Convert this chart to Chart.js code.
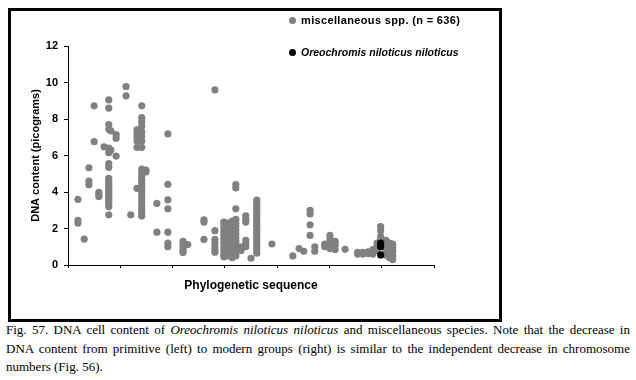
<!DOCTYPE html>
<html><head><meta charset="utf-8">
<script src="https://cdn.jsdelivr.net/npm/chart.js@4"></script>
<style>
html,body{margin:0;padding:0;background:#fff;width:636px;height:380px;overflow:hidden;}
#box{position:absolute;left:8px;top:8px;width:488px;height:308px;border:3px solid #000;}
#c{position:absolute;left:0;top:0;}
.leg{position:absolute;font-family:"Liberation Sans",Arial,sans-serif;font-weight:bold;font-size:11px;color:#000;white-space:nowrap;line-height:13px;}
.dot{position:absolute;width:7px;height:7px;border-radius:50%;}
#cap{position:absolute;left:6px;top:321px;width:624px;font-family:"Liberation Serif","Times New Roman",serif;font-size:13px;line-height:18.5px;color:#000;}
#cap div{text-align:justify;text-align-last:justify;}
#cap div.last{text-align-last:left;}
</style></head>
<body>
<div id="box"></div>
<canvas id="c" width="636" height="320"></canvas>
<div class="dot" style="left:289px;top:17px;background:#808080"></div>
<div class="leg" id="l0" style="left:301px;top:14px;letter-spacing:0.35px"></div>
<div class="dot" style="left:289px;top:49px;background:#000"></div>
<div class="leg" id="l1" style="left:301px;top:46px;font-style:italic;font-size:10.5px"></div>
<div id="cap">
<div>Fig. 57. DNA cell content of <i>Oreochromis niloticus niloticus</i> and miscellaneous species. Note that the decrease in</div>
<div>DNA content from primitive (left) to modern groups (right) is similar to the independent decrease in chromosome</div>
<div class="last">numbers (Fig. 56).</div>
</div>
<script>
const legendLabels = ['miscellaneous spp. (n = 636)', 'Oreochromis niloticus niloticus'];
const yTickValues = [0, 2, 4, 6, 8, 10, 12];
const xTickPositions = [0, 1, 2, 3, 4, 5, 6, 7];

// Phylogenetic position of each column of species
const miscPositions = [0.19, 0.31, 0.40, 0.50, 0.59, 0.69, 0.78, 0.82, 0.92, 1.11, 1.20, 1.32, 1.41, 1.49,
  1.70, 1.91, 2.20, 2.29, 2.60, 2.81, 2.98, 3.06, 3.14, 3.21, 3.31, 3.40, 3.50, 3.61, 3.90,
  4.30, 4.42, 4.51, 4.63, 4.72, 4.91, 5.01, 5.11, 5.30, 5.54, 5.64, 5.74, 5.83, 5.91, 5.98, 6.08, 6.15, 6.21];
// DNA content (pg) of the species in each column
const miscValues = [
  [3.6, 2.45, 2.3],
  [1.42],
  [5.33, 4.6, 4.4],
  [8.72, 6.76],
  [3.98, 3.85, 3.75],
  [6.48],
  [9.05, 8.6, 7.7, 7.45, 6.4, 6.15, 5.55, 5.35, 4.75, 4.6, 4.45, 4.3, 4.15, 4.0, 3.85, 3.7, 3.55, 3.4, 3.2, 2.75],
  [7.35, 6.3],
  [7.15, 6.95, 5.97],
  [9.78, 9.27],
  [2.75],
  [7.4, 7.2, 7.0, 6.8, 6.45, 4.2],
  [8.72, 8.08, 7.85, 7.6, 7.3, 7.05, 6.8, 6.45, 5.25, 5.05, 4.85, 4.65, 4.45, 4.25, 4.05, 3.85, 3.65, 3.45, 3.25, 3.05, 2.85, 2.68],
  [5.2, 5.1],
  [3.38, 1.8],
  [7.18, 4.42, 3.57, 3.08, 1.8, 1.2, 1.0],
  [1.3, 1.1, 0.95, 0.8, 0.68],
  [1.12],
  [2.48, 2.35, 1.4],
  [9.6, 1.88, 1.4, 1.2, 1.0, 0.85, 0.7],
  [2.35, 2.2, 2.0, 1.8, 1.6, 1.4, 1.2, 1.0, 0.8, 0.6, 0.45],
  [2.3, 2.1, 1.9, 1.7, 1.5, 1.3, 1.1, 0.9, 0.7, 0.5],
  [2.4, 2.2, 2.0, 1.8, 1.6, 1.4, 1.2, 1.0, 0.8, 0.6, 0.4],
  [4.4, 4.22, 3.08, 2.5, 2.3, 2.1, 1.9, 1.7, 1.5, 1.3, 1.1, 0.9, 0.7, 0.5],
  [1.0, 0.8],
  [2.7, 2.5, 2.35, 1.35, 1.15, 1.0],
  [0.37],
  [3.55, 3.4, 3.25, 3.1, 2.95, 2.8, 2.65, 2.5, 2.35, 2.2, 2.05, 1.9, 1.75, 1.6, 1.45, 1.3, 1.15, 1.0, 0.85, 0.65],
  [1.15],
  [0.5],
  [0.9],
  [0.75],
  [3.0, 2.8, 2.2, 1.62],
  [1.0, 0.75],
  [1.15, 1.0],
  [1.62, 1.45, 1.25, 1.05, 0.9],
  [1.3, 1.1, 0.85],
  [0.86],
  [0.7, 0.6],
  [0.7, 0.6],
  [0.72, 0.62],
  [0.85, 0.7, 0.6],
  [1.2, 1.0, 0.8],
  [2.1, 1.88, 1.55, 1.35],
  [1.35, 1.15, 0.95, 0.75, 0.55],
  [1.2, 1.0, 0.8, 0.6, 0.4],
  [1.15, 0.95, 0.75, 0.5, 0.3]
];
const nilePositions = [5.98, 5.98, 5.98];
const nileValues = [1.2, 1.0, 0.55];

document.getElementById('l0').textContent = legendLabels[0];
document.getElementById('l1').textContent = legendLabels[1];

const miscPts = miscPositions.flatMap((x, i) => miscValues[i].map(y => ({x, y})));
const nilePts = nilePositions.map((x, i) => ({x, y: nileValues[i]}));
const FONT = '"Liberation Sans", Arial, sans-serif';

new Chart(document.getElementById('c'), {
  type: 'scatter',
  data: {datasets: [
    {label: legendLabels[1], data: nilePts, backgroundColor: '#000', borderColor: '#000', borderWidth: 0, pointRadius: 3.6},
    {label: legendLabels[0], data: miscPts, backgroundColor: '#808080', borderColor: '#808080', borderWidth: 0, pointRadius: 3.6}
  ]},
  options: {
    responsive: false, animation: false, events: [],
    layout: {padding: {left: 10, top: 46, right: 202, bottom: 23}},
    plugins: {legend: {display: false}, tooltip: {enabled: false}},
    scales: {
      x: {
        type: 'linear', min: 0, max: 7,
        afterBuildTicks: s => { s.ticks = xTickPositions.map(v => ({value: v})); },
        ticks: {callback: () => '', font: {family: FONT, size: 11}},
        grid: {drawOnChartArea: false, drawTicks: true, tickLength: 3, color: '#000'},
        border: {color: '#000', width: 1},
        title: {display: true, text: 'Phylogenetic sequence', color: '#000', font: {family: FONT, size: 12, weight: 'bold'}, padding: {top: 0, bottom: 4}},
        afterFit: s => { s.height = 32; s.paddingLeft = 0; s.paddingRight = 0; }
      },
      y: {
        min: 0, max: 12,
        afterBuildTicks: s => { s.ticks = yTickValues.map(v => ({value: v})); },
        ticks: {color: '#000', font: {family: FONT, size: 11, weight: 'bold'}, padding: 6},
        grid: {drawOnChartArea: false, drawTicks: true, tickLength: 4, color: '#000'},
        border: {color: '#000', width: 1},
        title: {display: true, text: 'DNA content (picograms)', color: '#000', font: {family: FONT, size: 11, weight: 'bold'}, padding: {top: 19, bottom: 0}},
        afterFit: s => { s.width = 58; s.paddingTop = 0; s.paddingBottom = 0; }
      }
    }
  }
});
</script>
</body></html>
